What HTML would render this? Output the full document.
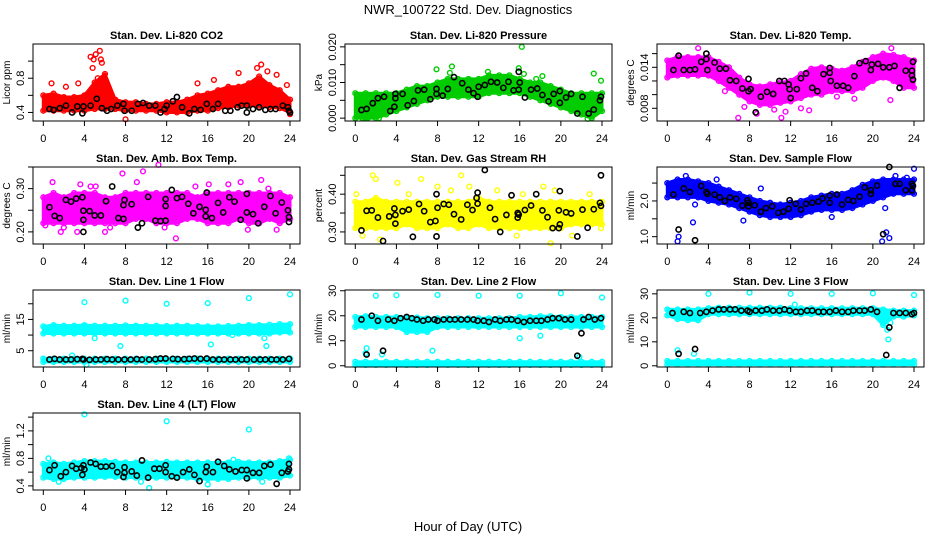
<!DOCTYPE html>
<html><head><meta charset="utf-8"><style>
html,body{margin:0;padding:0;background:#fff;}
svg{display:block;font-family:"Liberation Sans",sans-serif;}
</style></head><body>
<svg id="chart" width="936" height="540" viewBox="0 0 936 540" xmlns="http://www.w3.org/2000/svg">
<rect x="0" y="0" width="936" height="540" fill="#fff"/>
<text x="468" y="14" text-anchor="middle" font-size="13">NWR_100722  Std. Dev. Diagnostics</text>
<text x="468" y="531" text-anchor="middle" font-size="13">Hour of Day (UTC)</text>
</svg>
<script>
const hours=[0,1,2,3,4,5,6,7,8,9,10,11,12,13,14,15,16,17,18,19,20,21,22,23,24];
const xTicks=[0,4,8,12,16,20,24];
// CO2
const co2Lo=[.42,.42,.42,.42,.42,.44,.44,.44,.42,.42,.42,.42,.40,.40,.40,.42,.42,.45,.46,.48,.48,.48,.46,.45,.40];
const co2Hi=[.60,.62,.58,.58,.60,.75,.85,.55,.52,.52,.50,.50,.52,.52,.55,.60,.62,.66,.70,.70,.74,.82,.72,.66,.55];
const co2Out=[[4.6,1.05],[4.9,1.02],[5.1,1.08],[5.5,1.12],[5.6,1.02],[5.7,.98],[4.8,.92],[5.3,.80],[0.8,.74],[3.4,.74],[2.2,.70],[8,.32],[15,.74],[16.6,.78],[19,.86],[21.2,.96],[21.8,.88],[22.7,.84],[23.7,.72],[24,.38],[20.8,.92]];
const co2Blk=[[0.6,.44],[1,.43],[1.6,.45],[2.2,.48],[2.8,.40],[3.3,.47],[3.8,.39],[3.9,.47],[4.6,.48],[5.2,.56],[5.7,.45],[6.2,.42],[6.6,.44],[7.2,.48],[7.8,.50],[7.9,.42],[8.6,.42],[9.2,.50],[9.7,.51],[10.3,.48],[10.9,.48],[11.4,.40],[11.8,.44],[12,.48],[12.6,.53],[13,.58],[13.5,.46],[14.2,.39],[14.7,.44],[15.3,.43],[15.9,.50],[16.5,.44],[17,.50],[17.7,.42],[18.2,.42],[18.9,.46],[19.3,.48],[19.8,.48],[19.8,.40],[20.4,.44],[21,.46],[21.6,.43],[22.1,.44],[22.6,.44],[23.3,.48],[23.8,.46],[23.9,.42],[24,.40]];
// Pressure
const prLo=[.000,.000,.000,.001,.002,.003,.004,.005,.006,.006,.006,.006,.006,.007,.007,.007,.007,.006,.005,.004,.003,.002,.001,.000,.002];
const prHi=[.007,.007,.007,.007,.007,.008,.009,.009,.010,.011,.011,.011,.011,.012,.012,.012,.011,.010,.010,.009,.008,.007,.007,.007,.007];
const prOut=[[7.9,.0137],[9.4,.0145],[9.2,.0127],[12.9,.0130],[15.9,.0140],[16.2,.0200],[16.4,.0124],[17.6,.0110],[18.2,.0118],[23.2,.0125],[23.9,.0105],[0.7,0],[1.2,0],[2.3,0],[22.6,-.0002]];
const prBlk=[[0.6,.0023],[1.1,.0026],[1.7,.0042],[2.2,.0056],[2.8,.0060],[3.4,.0020],[3.8,.0032],[3.9,.0068],[3.9,.0056],[4.6,.0068],[5.1,.0036],[5.7,.0048],[6.1,.0078],[6.7,.0080],[7.3,.0053],[7.9,.0082],[7.9,.0068],[8.5,.0063],[9.0,.0082],[9.6,.0115],[10.4,.0098],[11,.0080],[11.5,.0070],[11.9,.0060],[12,.0088],[12.6,.0093],[13.2,.0102],[13.8,.0100],[14.4,.0085],[14.9,.0102],[15.4,.0078],[15.9,.0080],[15.9,.0130],[16,.0100],[16.5,.0058],[17.1,.0080],[17.7,.0083],[18.2,.0065],[18.8,.0047],[19.3,.0068],[19.9,.0043],[19.9,.0076],[20.5,.0058],[21,.0068],[21.6,.0013],[22.1,.0060],[22.7,.0013],[23.2,.0024],[23.8,.0050],[23.9,.0060]];
// Li-820 temp
const ltLo=[.0125,.0128,.0128,.0128,.0128,.0120,.0110,.0100,.0090,.0085,.0085,.0088,.0090,.0095,.0100,.0100,.0105,.0105,.0105,.0110,.0120,.0125,.0120,.0110,.0110];
const ltHi=[.0150,.0155,.0155,.0155,.0155,.0148,.0140,.0125,.0115,.0112,.0115,.0118,.0120,.0130,.0138,.0140,.0138,.0135,.0140,.0148,.0155,.0160,.0158,.0155,.0150];
const ltOut=[[3.0,.0168],[6.9,.0066],[8.7,.0072],[11.1,.0066],[11.5,.0075],[13,.0080],[13.8,.0077],[5.6,.0105],[21.8,.0168],[16.5,.0097],[18.2,.0094],[21.7,.0092],[7.5,.0082],[10.4,.0078]];
const ltBlk=[[0.6,.0136],[1.1,.0157],[1.6,.0136],[2.2,.0136],[2.7,.0137],[3.3,.0148],[3.8,.0160],[3.8,.0152],[3.9,.0136],[4.6,.0147],[5.1,.0138],[5.7,.0138],[6.1,.0121],[6.7,.0120],[7.3,.0109],[7.9,.0123],[7.9,.0105],[8.1,.0108],[8.6,.0074],[9.1,.0097],[9.7,.0104],[10.3,.0101],[10.9,.0120],[11.4,.0120],[11.8,.0115],[11.9,.0108],[12,.0095],[12.6,.0108],[13,.0124],[13.5,.0131],[14.1,.0110],[14.6,.0105],[15.2,.0130],[15.8,.0139],[15.8,.0132],[15.9,.0120],[16.5,.0113],[17.1,.0113],[17.6,.0110],[18.2,.0127],[18.7,.0146],[19.3,.0149],[19.8,.0136],[19.9,.0144],[20.5,.0145],[21,.0140],[21.6,.0140],[22.1,.0142],[22.6,.0110],[23.2,.0135],[23.8,.0128],[23.8,.0135],[23.9,.0122],[23.9,.0148]];
// Amb box temp
const abLo=[.22,.22,.22,.22,.22,.22,.22,.22,.22,.23,.23,.22,.22,.22,.23,.23,.22,.22,.22,.23,.22,.22,.23,.22,.23];
const abHi=[.28,.29,.28,.29,.29,.29,.28,.28,.29,.29,.29,.29,.29,.29,.29,.28,.29,.29,.29,.29,.29,.29,.29,.29,.28];
const abOut=[[0.9,.315],[1.7,.200],[2,.21],[3.3,.20],[3.6,.31],[4.6,.305],[5.1,.305],[6,.20],[6.5,.21],[7.7,.335],[9.1,.315],[9.7,.34],[11.2,.355],[11.8,.21],[12.9,.185],[14.8,.305],[16.1,.31],[18,.31],[19.2,.315],[19.9,.205],[21.2,.32],[21.9,.30],[22.7,.205],[0.2,.215]];
const abBlk=[[0.6,.257],[1.1,.237],[1.6,.232],[2.2,.274],[2.7,.270],[3.2,.277],[3.8,.280],[3.9,.249],[3.9,.228],[3.9,.200],[4.5,.248],[5,.238],[5.6,.238],[6.1,.271],[6.7,.305],[7.3,.232],[7.8,.230],[7.8,.262],[7.9,.274],[8.6,.264],[9.2,.210],[9.6,.220],[10.2,.281],[10.9,.226],[11.4,.225],[11.9,.260],[11.9,.276],[11.9,.226],[12.5,.297],[13,.278],[13.5,.281],[14.1,.265],[14.6,.243],[15.2,.258],[15.8,.236],[15.8,.251],[15.9,.291],[16.4,.232],[17,.267],[17.5,.245],[18.1,.280],[18.6,.270],[19.2,.228],[19.8,.288],[19.8,.245],[20.4,.241],[20.9,.220],[21.5,.258],[22.1,.283],[22.6,.243],[23.2,.268],[23.8,.250],[23.9,.234],[23.9,.223]];
// Gas stream RH
const rhLo=[.31,.31,.31,.31,.31,.32,.31,.31,.31,.32,.31,.31,.32,.31,.31,.31,.31,.31,.31,.31,.31,.32,.32,.32,.32];
const rhHi=[.38,.38,.39,.38,.38,.38,.38,.38,.38,.38,.38,.38,.39,.38,.38,.38,.38,.38,.38,.38,.38,.38,.38,.38,.38];
const rhOut=[[1.7,.45],[2,.44],[4.1,.43],[6.4,.44],[8,.42],[10.3,.45],[11.1,.42],[13.8,.41],[18.3,.42],[19.4,.41],[2.4,.28],[0.7,.29],[19.0,.27],[21.1,.29],[23.9,.31],[0.1,.40],[15.7,.29],[5.2,.40],[9.3,.41],[16.3,.40],[22.8,.40]];
const rhBlk=[[0.6,.304],[1.1,.356],[1.6,.357],[2.2,.338],[2.7,.276],[3.3,.341],[3.8,.362],[3.9,.345],[3.9,.322],[4.6,.355],[5.2,.359],[5.6,.287],[6.2,.374],[6.7,.355],[7.3,.326],[7.8,.329],[7.9,.288],[8,.364],[7.9,.400],[8.6,.374],[9.1,.372],[9.6,.347],[10.3,.333],[10.9,.372],[11.4,.358],[11.8,.390],[11.9,.404],[11.9,.375],[12.6,.464],[13.1,.364],[13.6,.334],[14.1,.300],[14.7,.345],[15.2,.397],[15.8,.350],[15.8,.338],[15.9,.346],[16.5,.358],[17.1,.370],[17.6,.400],[18.2,.357],[18.7,.339],[19.2,.310],[19.8,.310],[19.8,.357],[19.9,.320],[19.9,.408],[20.5,.352],[21,.349],[21.6,.288],[22.1,.359],[22.6,.311],[23.2,.360],[23.8,.377],[23.9,.369],[23.9,.450]];
// Sample flow
const sfLo=[2.1,2.1,2.1,2.1,2.0,1.95,1.9,1.8,1.7,1.6,1.55,1.55,1.55,1.6,1.7,1.75,1.75,1.75,1.8,1.9,2.0,2.1,2.2,2.2,2.2];
const sfHi=[2.5,2.6,2.6,2.55,2.5,2.4,2.3,2.2,2.1,2.0,1.95,1.9,1.95,2.0,2.1,2.15,2.2,2.2,2.3,2.45,2.55,2.6,2.6,2.6,2.6];
const sfOut=[[1,.87],[1.1,1.0],[2.5,1.4],[2.7,1.9],[3.3,2.3],[7.4,1.45],[9.1,2.35],[16,1.55],[20.9,.87],[21.2,1.8],[21.3,1.12],[21.6,.96],[22.2,2.7],[23.3,2.65],[24,2.9],[1.8,2.7],[4.8,2.6]];
const sfBlk=[[0.6,2.18],[1.1,1.2],[1.6,2.35],[2.2,2.25],[2.7,.9],[3.3,2.42],[3.8,2.25],[3.9,2.2],[4.6,2.18],[5.1,2.1],[5.6,2.0],[6.1,2.1],[6.7,2.06],[7.3,1.87],[7.8,2.02],[7.9,1.95],[7.9,1.85],[8.5,1.88],[9.1,1.7],[9.6,1.8],[10.2,1.85],[10.8,1.67],[11.3,1.7],[11.8,1.78],[11.9,2.02],[12.5,1.92],[13,1.76],[13.5,1.92],[14.1,1.95],[14.7,1.98],[15.1,2.07],[15.8,2.15],[15.8,1.95],[16.5,2.18],[17,1.9],[17.6,2.03],[18.1,2.0],[18.7,2.12],[19.2,2.38],[19.8,2.3],[19.8,2.2],[20.4,2.43],[21,1.07],[21.6,2.95],[22.2,2.48],[22.6,2.48],[23.2,2.3],[23.8,2.3],[23.8,2.48],[23.9,2.42]];
// Line 1 flow
const l1Lo=[10.5,10.5,10.5,10.5,10.5,10.5,10.5,10.5,10.5,10.5,10.5,10.5,10.5,10.5,10.5,10.5,10.5,10.5,10.5,10.5,10.5,10.5,10.5,10.8,10.8];
const l1Hi=[12.8,13.2,13,13,13.2,13,13,13,13.1,13,13,13,12.9,13,13,12.9,12.8,12.8,12.9,13,13.2,13.2,13.3,13.5,13.5];
const l1bLo=[1.4,1.4,1.4,1.4,1.4,1.4,1.4,1.4,1.4,1.4,1.4,1.4,1.4,1.4,1.4,1.4,1.4,1.4,1.4,1.4,1.4,1.4,1.4,1.4,1.4];
const l1bHi=[2.5,2.5,2.5,2.5,2.5,2.5,2.5,2.5,2.5,2.5,2.5,2.5,2.5,2.5,2.5,2.5,2.5,2.5,2.5,2.5,2.5,2.5,2.5,2.5,2.5];
const l1Out=[[4,20.5],[8,21],[12,20],[16,20.2],[20,21.8],[24,23],[2.8,3.5],[4.2,0.5],[5,9],[7.5,6.5],[16.3,7],[21.5,9],[21.7,6.5],[18.4,10]];
const l1Blk=[[0.6,2.2],[1.1,2.4],[1.6,2.2],[2.2,2.2],[2.7,2.2],[3.3,2.3],[3.8,2.4],[3.9,2.2],[4.5,2.1],[5.1,2.2],[5.6,2.2],[6.2,2.3],[6.7,2.2],[7.3,2.2],[7.9,2.2],[8.5,2.2],[9.1,2.3],[9.6,2.2],[10.3,2.2],[10.9,2.3],[11.4,2.5],[11.9,2.5],[12.6,2.4],[13.1,2.3],[13.7,2.3],[14.2,2.4],[14.7,2.5],[15.3,2.4],[15.9,2.5],[16.5,2.2],[17.1,2.2],[17.6,2.2],[18.2,2.2],[18.7,2.2],[19.3,2.2],[19.8,2.2],[20.5,2.2],[21.1,2.2],[21.6,2.2],[22.2,2.2],[22.7,2.2],[23.3,2.2],[23.9,2.4]];
// Line 2 flow
const l2Lo=[15.5,15.5,15.5,15.5,15.5,13.5,13.5,13.5,15.5,15.5,15.5,15.5,15.5,15.5,15.5,15.5,15.5,15.5,15.5,15.5,15.5,15.5,15.5,15.5,15.5];
const l2Hi=[19.5,19.8,19.5,19.5,19.5,19.5,19.3,19,19,19,19,19,19,19,19,19,19.5,19.5,19.8,19.8,19.5,19.5,19.5,19.5,19.5];
const l2bLo=[0.3,0.3,0.3,0.3,0.3,0.3,0.3,0.3,0.3,0.3,0.3,0.3,0.3,0.3,0.3,0.3,0.3,0.3,0.3,0.3,0.3,0.3,0.3,0.3,0.3];
const l2bHi=[1.6,1.6,1.6,1.6,1.6,1.6,1.6,1.6,1.6,1.6,1.6,1.6,1.6,1.6,1.6,1.6,1.6,1.6,1.6,1.6,1.6,1.6,1.6,1.6,1.6];
const l2Out=[[2,28],[4,28.2],[8,28.3],[12,28],[16,28],[20,29],[24,27.3],[1,5],[1.1,7],[2.6,4.5],[7.5,6],[16,11],[18,12],[21.8,3.5]];
const l2Blk=[[0.6,18.5],[1.1,4.5],[1.6,20],[2.2,18],[2.7,6],[3.2,18.5],[3.8,18],[4.4,19],[5,19.5],[5.5,19],[6,18.5],[6.6,18],[7.1,18.5],[7.7,18.5],[8,18],[8.6,18.5],[9.2,18.5],[9.7,18.5],[10.3,18.5],[10.9,18.5],[11.5,18.5],[11.9,18],[12.5,18],[13,17.5],[13.6,18.5],[14.1,18],[14.7,18.5],[15.2,18.5],[15.8,18],[16.4,17.5],[17,18],[17.6,18],[18.1,18],[18.7,18.5],[19.2,19],[19.8,19],[20.4,18.5],[21,18.5],[21.6,4],[22,13],[22.2,18.5],[22.7,19.5],[23.3,18.5],[23.9,19]];
// Line 3 flow
const l3Lo=[21,19.5,19,19,21.5,21.5,21.5,21.5,21.5,21.5,21.5,21.5,21.5,21.5,21.5,21.5,21.5,21.5,21.5,21.5,21.5,17,20.5,20.5,21];
const l3Hi=[23.5,23.5,23.5,23.5,24,24.2,24.2,24.2,24.2,24.2,24.2,24.2,24,24,24,24,24,24,24,24,24,23.5,23,23,23];
const l3bLo=[0.5,0.5,0.5,0.5,0.5,0.5,0.5,0.5,0.5,0.5,0.5,0.5,0.5,0.5,0.5,0.5,0.5,0.5,0.5,0.5,0.5,0.5,0.5,0.5,0.5];
const l3bHi=[2,2,2,2,2,2,2,2,2,2,2,2,2,2,2,2,2,2,2,2,2,2,2,2,2];
const l3Out=[[4,30],[8,30.5],[12,30],[16,30],[20,30.2],[24,29.5],[1,6.5],[2.6,5],[21.4,15],[21.5,11],[21.7,18],[12.4,25.5],[3,19]];
const l3Blk=[[0.5,22],[1.1,5],[1.6,22.5],[2.2,22],[2.7,7],[3.2,22],[3.8,22.5],[4.4,23],[5,23.5],[5.5,23.5],[6.1,23.5],[6.6,23.5],[7.2,23],[7.8,23],[8,22.5],[8.6,23],[9.2,23],[9.7,23.5],[10.3,23],[10.9,23],[11.4,23.5],[11.9,23],[12.5,22.5],[13,22.5],[13.6,23],[14.1,23],[14.7,22.5],[15.2,22.5],[15.8,22.5],[16.4,23],[17,22.5],[17.6,22.5],[18.1,23],[18.7,23],[19.2,23],[19.8,23.5],[20.4,22.5],[21.3,4.5],[21.6,16],[22,22],[22.6,22],[23.2,22],[23.8,21.5],[24,22]];
// Line 4 flow
const l4Lo=[.52,.50,.50,.52,.52,.52,.53,.53,.52,.52,.52,.52,.52,.52,.52,.50,.50,.50,.50,.52,.52,.52,.52,.52,.55];
const l4Hi=[.72,.74,.72,.74,.76,.76,.76,.75,.74,.74,.74,.74,.75,.74,.74,.74,.74,.74,.74,.75,.74,.74,.74,.76,.78];
const l4Out=[[4,1.44],[12,1.34],[20,1.22],[10.3,.37],[16,.42],[0.5,.80],[1.5,.46],[21.3,.46],[23.9,.80],[9.5,.46],[18.5,.78]];
const l4Blk=[[0.6,.63],[1.1,.70],[1.7,.54],[2.2,.60],[2.8,.69],[3.2,.65],[3.7,.66],[3.8,.56],[3.9,.70],[4,.64],[4.6,.74],[5.1,.72],[5.6,.68],[6.1,.68],[6.7,.69],[7.2,.60],[7.8,.53],[7.9,.59],[7.9,.67],[8.6,.61],[9.1,.55],[9.6,.77],[10.2,.52],[10.8,.65],[11.3,.65],[11.9,.60],[11.9,.70],[12.5,.54],[13,.52],[13.6,.60],[14.2,.64],[14.7,.56],[15.2,.47],[15.8,.60],[15.9,.68],[16.5,.60],[17,.75],[17.6,.69],[18.1,.64],[18.7,.61],[19.3,.63],[19.8,.51],[19.8,.63],[20.4,.59],[21,.59],[21.5,.69],[22.1,.71],[22.7,.43],[23.2,.59],[23.8,.61],[23.9,.72],[23.9,.64]];

const svg=document.getElementById('chart');
const NS='http://www.w3.org/2000/svg';
function mk(tag,attrs,parent){const e=document.createElementNS(NS,tag);for(const k in attrs)e.setAttribute(k,attrs[k]);(parent||svg).appendChild(e);return e;}

function panel(o){
  const L=33+312*o.col, R=300+312*o.col, T=44+123*o.row, B=T+77;
  const x0=43.3+312*o.col, xs=246.7/24;
  const X=h=>x0+h*xs;
  const Y=v=>B-(v-o.ymin)/(o.ymax-o.ymin)*(B-T);
  const g=mk('g',{});
  
  
  const t=mk('text',{x:(L+R)/2,y:T-5,'text-anchor':'middle','font-size':11,'font-weight':'bold'},g);
  t.textContent=o.title;
  
  
  // bands
  o.bands.forEach((b,bi)=>{
    let pts=hours.map((h,i)=>X(h)+','+Y(b[1][i]));
    for(let i=hours.length-1;i>=0;i--)pts.push(X(hours[i])+','+Y(b[0][i]));
    const p=mk('polygon',{points:pts.join(' '),fill:o.color,stroke:o.color,'stroke-width':3,'stroke-linejoin':'round'},g);
    
    
    hours.forEach((h,i)=>{
      [b[0][i],b[1][i]].forEach(v=>{
        const c=mk('circle',{cx:X(h),cy:Y(v),r:2.4,fill:'none',stroke:o.color,'stroke-width':1.4},g);
        
        
      });
    });
  });
  o.out.forEach(d=>{
    const c=mk('circle',{cx:X(d[0]),cy:Y(d[1]),r:2.4,fill:'none',stroke:o.color,'stroke-width':1.4},g);
    
    
  });
  o.blk.forEach(d=>{
    const c=mk('circle',{cx:X(d[0]),cy:Y(d[1]),r:2.6,fill:'none',stroke:'#000','stroke-width':1.6},g);
    
    
  });
  const box=mk('rect',{x:L,y:T,width:R-L,height:B-T,fill:'none',stroke:'#000','stroke-width':1},g);
  
  
  xTicks.forEach(h=>{
    mk('line',{x1:X(h),x2:X(h),y1:B,y2:B+5,stroke:'#000'},g);
    const tl=mk('text',{x:X(h),y:B+21,'text-anchor':'middle','font-size':11},g);
    tl.textContent=h;
    
    
  });
  o.ticks.forEach((v,i)=>{
    const y=Y(v);
    mk('line',{x1:L-5,x2:L,y1:y,y2:y,stroke:'#000'},g);
    if(o.labels[i]){
      const tl=mk('text',{x:0,y:0,'text-anchor':'middle','font-size':11,transform:`translate(${L-9},${y}) rotate(-90)`},g);
      tl.textContent=o.labels[i];
      
      
    }
  });
  const yl=mk('text',{x:0,y:0,'text-anchor':'middle','font-size':10,transform:`translate(${L-23},${(T+B)/2}) rotate(-90)`},g);
  yl.textContent=o.ylab;
  
  
}

panel({name:'co2',col:0,row:0,title:'Stan. Dev. Li-820 CO2',ylab:'Licor ppm',color:'#ff0000',ymin:.30,ymax:1.20,ticks:[.4,.6,.8,1.0],labels:['0.4','','0.8',''],bands:[[co2Lo,co2Hi]],out:co2Out,blk:co2Blk});
panel({name:'pressure',col:1,row:0,title:'Stan. Dev. Li-820 Pressure',ylab:'kPa',color:'#00cc00',ymin:-.0008,ymax:.0208,ticks:[0,.005,.010,.015,.020],labels:['0.000','','0.010','','0.020'],bands:[[prLo,prHi]],out:prOut,blk:prBlk});
panel({name:'li820-temp',col:2,row:0,title:'Stan. Dev. Li-820 Temp.',ylab:'degrees C',color:'#ff00ff',ymin:.00614,ymax:.01741,ticks:[.008,.010,.012,.014,.016],labels:['0.008','','','0.014',''],bands:[[ltLo,ltHi]],out:ltOut,blk:ltBlk});
panel({name:'amb-box-temp',col:0,row:1,title:'Stan. Dev. Amb. Box Temp.',ylab:'degrees C',color:'#ff00ff',ymin:.172,ymax:.35,ticks:[.20,.25,.30,.35],labels:['0.20','','0.30',''],bands:[[abLo,abHi]],out:abOut,blk:abBlk});
panel({name:'gas-rh',col:1,row:1,title:'Stan. Dev. Gas Stream RH',ylab:'percent',color:'#ffff00',ymin:.268,ymax:.472,ticks:[.30,.35,.40,.45],labels:['0.30','','0.40',''],bands:[[rhLo,rhHi]],out:rhOut,blk:rhBlk});
panel({name:'sample-flow',col:2,row:1,title:'Stan. Dev. Sample Flow',ylab:'ml/min',color:'#0000ff',ymin:.795,ymax:2.95,ticks:[1.0,1.5,2.0,2.5],labels:['1.0','','2.0',''],bands:[[sfLo,sfHi]],out:sfOut,blk:sfBlk});
panel({name:'line1-flow',col:0,row:2,title:'Stan. Dev. Line 1 Flow',ylab:'ml/min',color:'#00ffff',ymin:-0.2,ymax:24.4,ticks:[5,10,15,20],labels:['5','','15',''],bands:[[l1Lo,l1Hi],[l1bLo,l1bHi]],out:l1Out,blk:l1Blk});
panel({name:'line2-flow',col:1,row:2,title:'Stan. Dev. Line 2 Flow',ylab:'ml/min',color:'#00ffff',ymin:-0.5,ymax:30.3,ticks:[0,10,20,30],labels:['0','10','20','30'],bands:[[l2Lo,l2Hi],[l2bLo,l2bHi]],out:l2Out,blk:l2Blk});
panel({name:'line3-flow',col:2,row:2,title:'Stan. Dev. Line 3 Flow',ylab:'ml/min',color:'#00ffff',ymin:-0.5,ymax:31.6,ticks:[0,10,20,30],labels:['0','10','20','30'],bands:[[l3Lo,l3Hi],[l3bLo,l3bHi]],out:l3Out,blk:l3Blk});
panel({name:'line4-flow',col:0,row:3,title:'Stan. Dev. Line 4 (LT) Flow',ylab:'ml/min',color:'#00ffff',ymin:.34,ymax:1.46,ticks:[.4,.6,.8,1.0,1.2,1.4],labels:['0.4','','0.8','','1.2',''],bands:[[l4Lo,l4Hi]],out:l4Out,blk:l4Blk});
</script>
</body></html>
